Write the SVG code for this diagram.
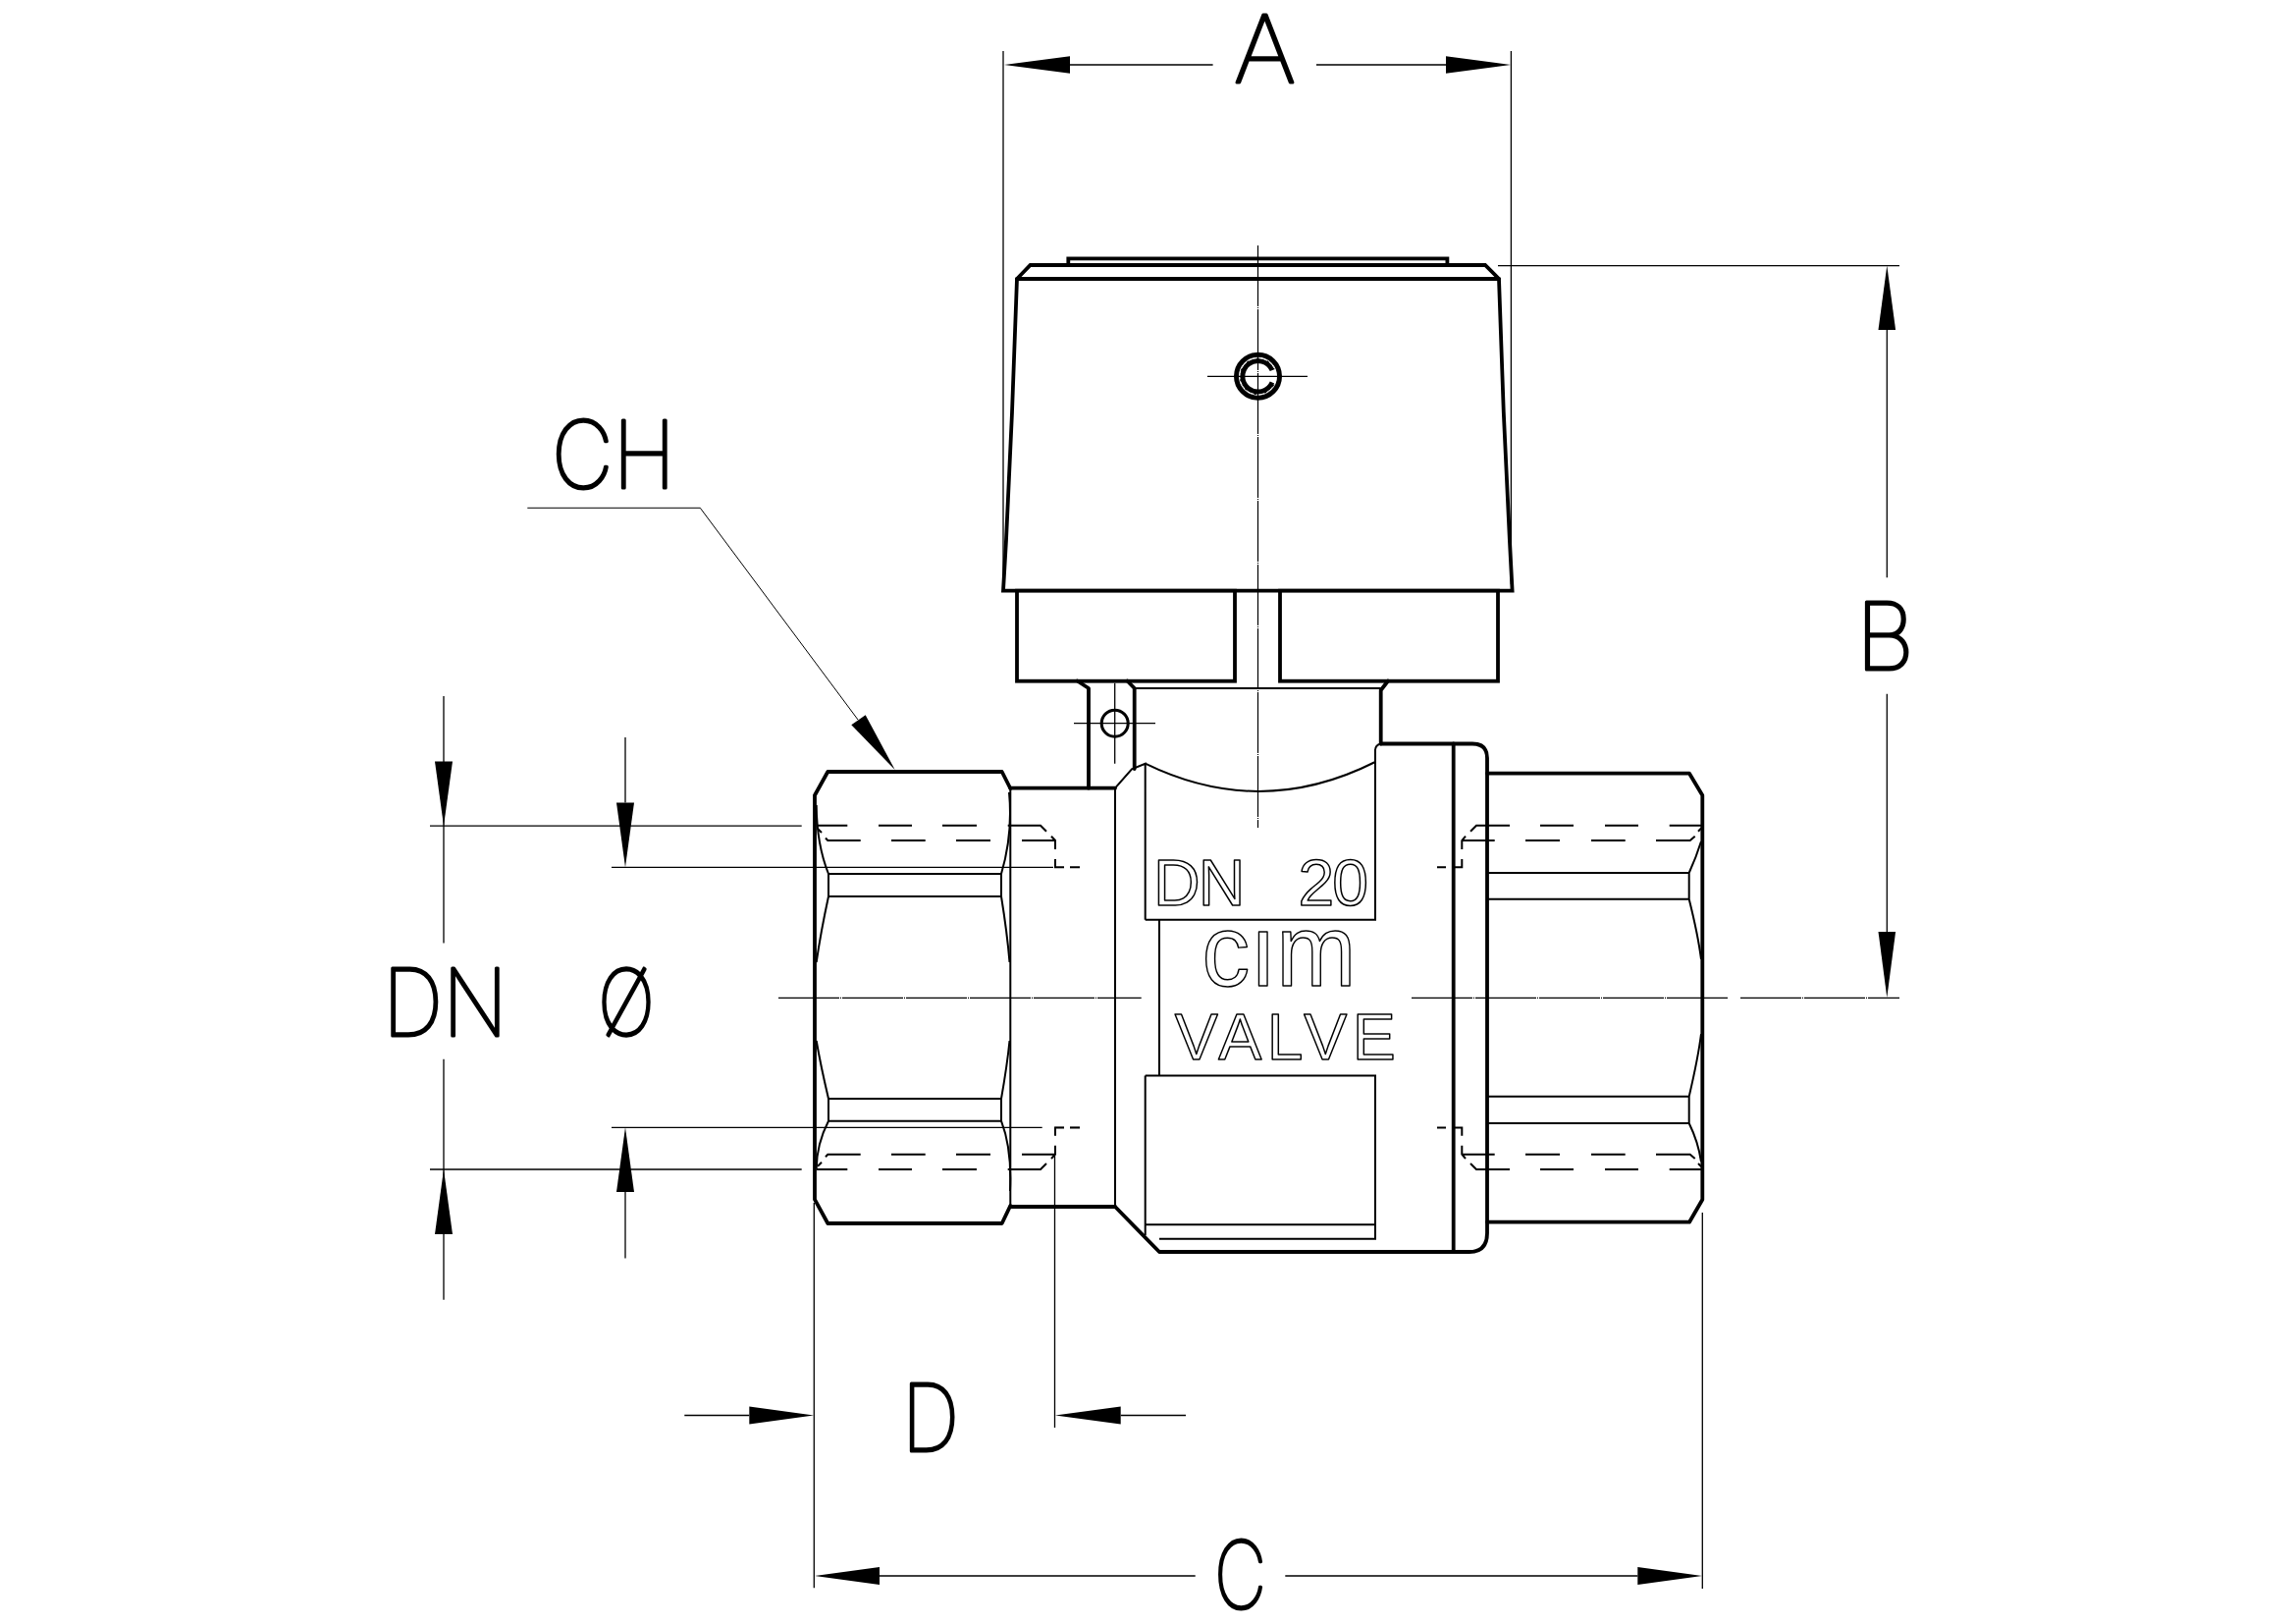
<svg xmlns="http://www.w3.org/2000/svg" xmlns:xlink="http://www.w3.org/1999/xlink" width="2339" height="1654" viewBox="0 0 2339 1654">
<style>
.k{fill:#fff;stroke:#000;stroke-width:3.8;stroke-linejoin:miter}
.o{fill:none;stroke:#000;stroke-width:3.8;stroke-linejoin:round;stroke-linecap:round}
.m{fill:none;stroke:#000;stroke-width:2;stroke-linejoin:miter}
.n{fill:none;stroke:#000;stroke-width:1.4}
.f{fill:none;stroke:#000;stroke-width:1.3}
.c{fill:none;stroke:#000;stroke-width:1.2;stroke-dasharray:62 1 1 1}
.a{fill:#000;stroke:none}
.t{font-family:Inter,"Liberation Sans",sans-serif;font-weight:100;font-size:95px;fill:#000;stroke:#000;stroke-width:3.2;stroke-linejoin:round}
.e{font-family:"Liberation Sans",Arial,sans-serif;fill:#fff;stroke:#000;stroke-width:1.5;stroke-linejoin:round}
</style>
<defs>
<path id="threadL" class="m" d="M831.7 840.7H863.3M895 840.7H929M960 840.7H995M1026.7 840.7H1060L1066 846.7M1071 851.7L1075 856V865M1075 875V883.3H1084M1090 883.3H1100M833 844L837 848M841 853.5L843.3 856H876.7M908 856H942.7M974 856H1009M1041 856H1075"/>
<path id="threadR" class="m" d="M1733 840.7H1700.7M1669 840.7H1635M1603 840.7H1569M1538 840.7H1504L1498 846.7M1493 851.7L1489.3 856V865M1489.3 875V883.3H1480M1473 883.3H1464M1733.3 843.3L1730 846.7M1726.7 851.7L1721.7 856H1687M1655.7 856H1621M1589 856H1554M1522.7 856H1489.3"/>
</defs>
<rect width="2339" height="1654" fill="#fff"/>

<g id="knob">
<path class="k" d="M1088.3 270V263.3H1474.4V270"/>
<path class="k" d="M1036 284L1049.6 270H1513L1527 284L1531.8 420L1537.9 550L1540.6 601.7H1022L1025 550L1031 420Z"/>
<path class="o" d="M1036 284H1527"/>
<rect class="k" x="1036" y="601.7" width="222" height="92"/>
<rect class="k" x="1304" y="601.7" width="222" height="92"/>
<circle cx="1281.5" cy="383.3" r="22" fill="#fff" stroke="#000" stroke-width="5"/>
<path d="M1296.3 377A16 16 0 1 0 1296.3 389.6" fill="none" stroke="#000" stroke-width="5.5"/>
<circle cx="1281.5" cy="383.3" r="18.6" fill="none" stroke="#fff" stroke-width="1" stroke-dasharray="9 2"/>
</g>

<g id="neck">
<path class="m" d="M1156 701H1406.7"/>
<path class="o" d="M1097.5 693.5L1109 701V802.7M1148.4 693.5L1155.7 701V783M1414 693.5L1406.7 703V757.5"/>
<ellipse cx="1135.7" cy="736.7" rx="13.5" ry="13.5" fill="none" stroke="#000" stroke-width="3"/>
</g>

<g id="nut-left">
<path class="m" d="M1029.3 803V1228"/>
<path class="o" d="M830 810V1221.7L843.3 1246H1020.7L1029.3 1228M830 810L843.3 786H1020.7L1029.3 803"/>
<path class="m" d="M831.7 820Q832 860 844 890V913H1020V890Q1032 850 1028 807M844 890H1020M844 913Q836 950 831.7 980M1020 913Q1026 950 1028.5 980M844 1119V1141.7H1020V1119H844M844 1119Q836 1085 831.7 1060M1020 1119Q1026 1085 1028.5 1060M844 1141.7Q832 1165 831.7 1190M1020 1141.7Q1031 1170 1029 1213"/>
<use xlink:href="#threadL"/>
<use xlink:href="#threadL" transform="matrix(1 0 0 -1 0 2031.7)"/>
</g>

<g id="collar">
<path class="o" d="M1029.3 802.7H1136M1029.3 1229H1136"/>
</g>

<g id="nut-right">
<path class="o" d="M1515 787.7H1721L1734.3 810V1221.7L1721 1244.7H1515"/>
<path class="m" d="M1515 889H1720.7V915.7H1515M1515 1116.7H1720.7V1144H1515M1720.7 889Q1728 873 1733 857M1720.7 915.7Q1730 953 1733 977M1720.7 1116.7Q1730 1077 1733 1053M1720.7 1144Q1730 1163 1733 1183"/>
<use xlink:href="#threadR"/>
<use xlink:href="#threadR" transform="matrix(1 0 0 -1 0 2031.7)"/>
</g>

<g id="body">
<path class="m" d="M1136 802.7V1229M1136 802.7L1153 783.3L1166.7 777.7V936.7M1166.7 777.7Q1284 835 1401 776M1401 776V764Q1401 759 1406.7 757.5"/>
<path class="o" d="M1406.7 757.5H1500Q1515 757.5 1515 772V1256Q1515 1275 1497 1275H1181L1136 1229"/>
<path class="o" d="M1480.7 757.5V1275"/>
<path class="m" d="M1401 776V936.7H1166.7M1181 936.7V1095.5M1166.7 1095.5H1401V1261.7H1181M1166.7 1095.5V1258M1166.7 1247.3H1401"/>
<text class="e" x="1175" y="922.3" font-size="66" textLength="219" lengthAdjust="spacing" word-spacing="40">DN 20</text>
<text class="e" x="1224.5" y="1004.3" font-size="103" textLength="157" lengthAdjust="spacingAndGlyphs">cım</text>
<text class="e" x="1196.7" y="1079.3" font-size="66" textLength="225" lengthAdjust="spacing">VALVE</text>
</g>

<g id="connectors">
<path class="c" d="M1281.5 250V843"/>
<path class="c" d="M793 1016.3H1162.7M1438 1016.3H1760M1773 1016.3H1935"/>
<path class="f" d="M1230 383.3H1332M1094 736.7H1177M1135.7 695.7V777.7"/>
<path class="f" d="M1022 52V595M1539.4 52V595M1526 270.6H1935"/>
<path class="f" d="M438 841.2H816.7M438 1191H816.7M623 883.3H1073M623 1148.3H1061.7"/>
<path class="f" d="M1074.5 1148.3H1084M1090 1148.3H1100M1074.5 1176V1454M829.3 1225V1617.3M1734.3 1235V1618"/>
<path class="f" d="M1090 66H1235.6M1341 66H1473"/>
<path class="f" d="M1922.3 336V588.3M1922.3 706.7V949"/>
<path class="f" d="M452 709V960.4M452 1078.8V1323.7M637 751V817.5M637 1214V1281.6"/>
<path class="f" d="M697.3 1441.5H763.3M1141.7 1441.5H1208M896 1605H1217.7M1309.3 1605H1668.3"/>
<path class="n" style="stroke-width:1" d="M537.3 517.3H713.3L874 733"/>
<polygon class="a" points="1023,66 1090,57.2 1090,74.8"/>
<polygon class="a" points="1539,66 1473,57.2 1473,74.8"/>
<polygon class="a" points="1922.3,270.6 1913.5,336 1931.1,336"/>
<polygon class="a" points="1922.3,1016 1913.5,949 1931.1,949"/>
<polygon class="a" points="452,841.2 443,775.5 461,775.5"/>
<polygon class="a" points="452,1191 443,1257 461,1257"/>
<polygon class="a" points="637,883.3 628,817.5 646,817.5"/>
<polygon class="a" points="637,1148.3 628,1214 646,1214"/>
<polygon class="a" points="829,1441.5 763.3,1432.5 763.3,1450.5"/>
<polygon class="a" points="1075,1441.5 1141.7,1432.5 1141.7,1450.5"/>
<polygon class="a" points="830,1605 896,1596 896,1614"/>
<polygon class="a" points="1734,1605 1668.3,1596 1668.3,1614"/>
<polygon class="a" points="911.7,784 867.3,738.3 881.7,728.3"/>
</g>

<g id="labels">
<text class="t" x="1257" y="84" textLength="63" lengthAdjust="spacingAndGlyphs">A</text>
<text class="t" x="1891" y="681.7" textLength="59" lengthAdjust="spacingAndGlyphs">B</text>
<text class="t" x="1237" y="1638" textLength="53" lengthAdjust="spacingAndGlyphs">C</text>
<text class="t" x="562" y="497.3" textLength="126" lengthAdjust="spacingAndGlyphs">CH</text>
<text class="t" x="919" y="1478.3" textLength="58" lengthAdjust="spacingAndGlyphs">D</text>
<text class="t" x="390" y="1055" textLength="127" lengthAdjust="spacingAndGlyphs">DN</text>
<text class="t" x="609" y="1055" textLength="58" lengthAdjust="spacingAndGlyphs">Ø</text>
</g>
</svg>
